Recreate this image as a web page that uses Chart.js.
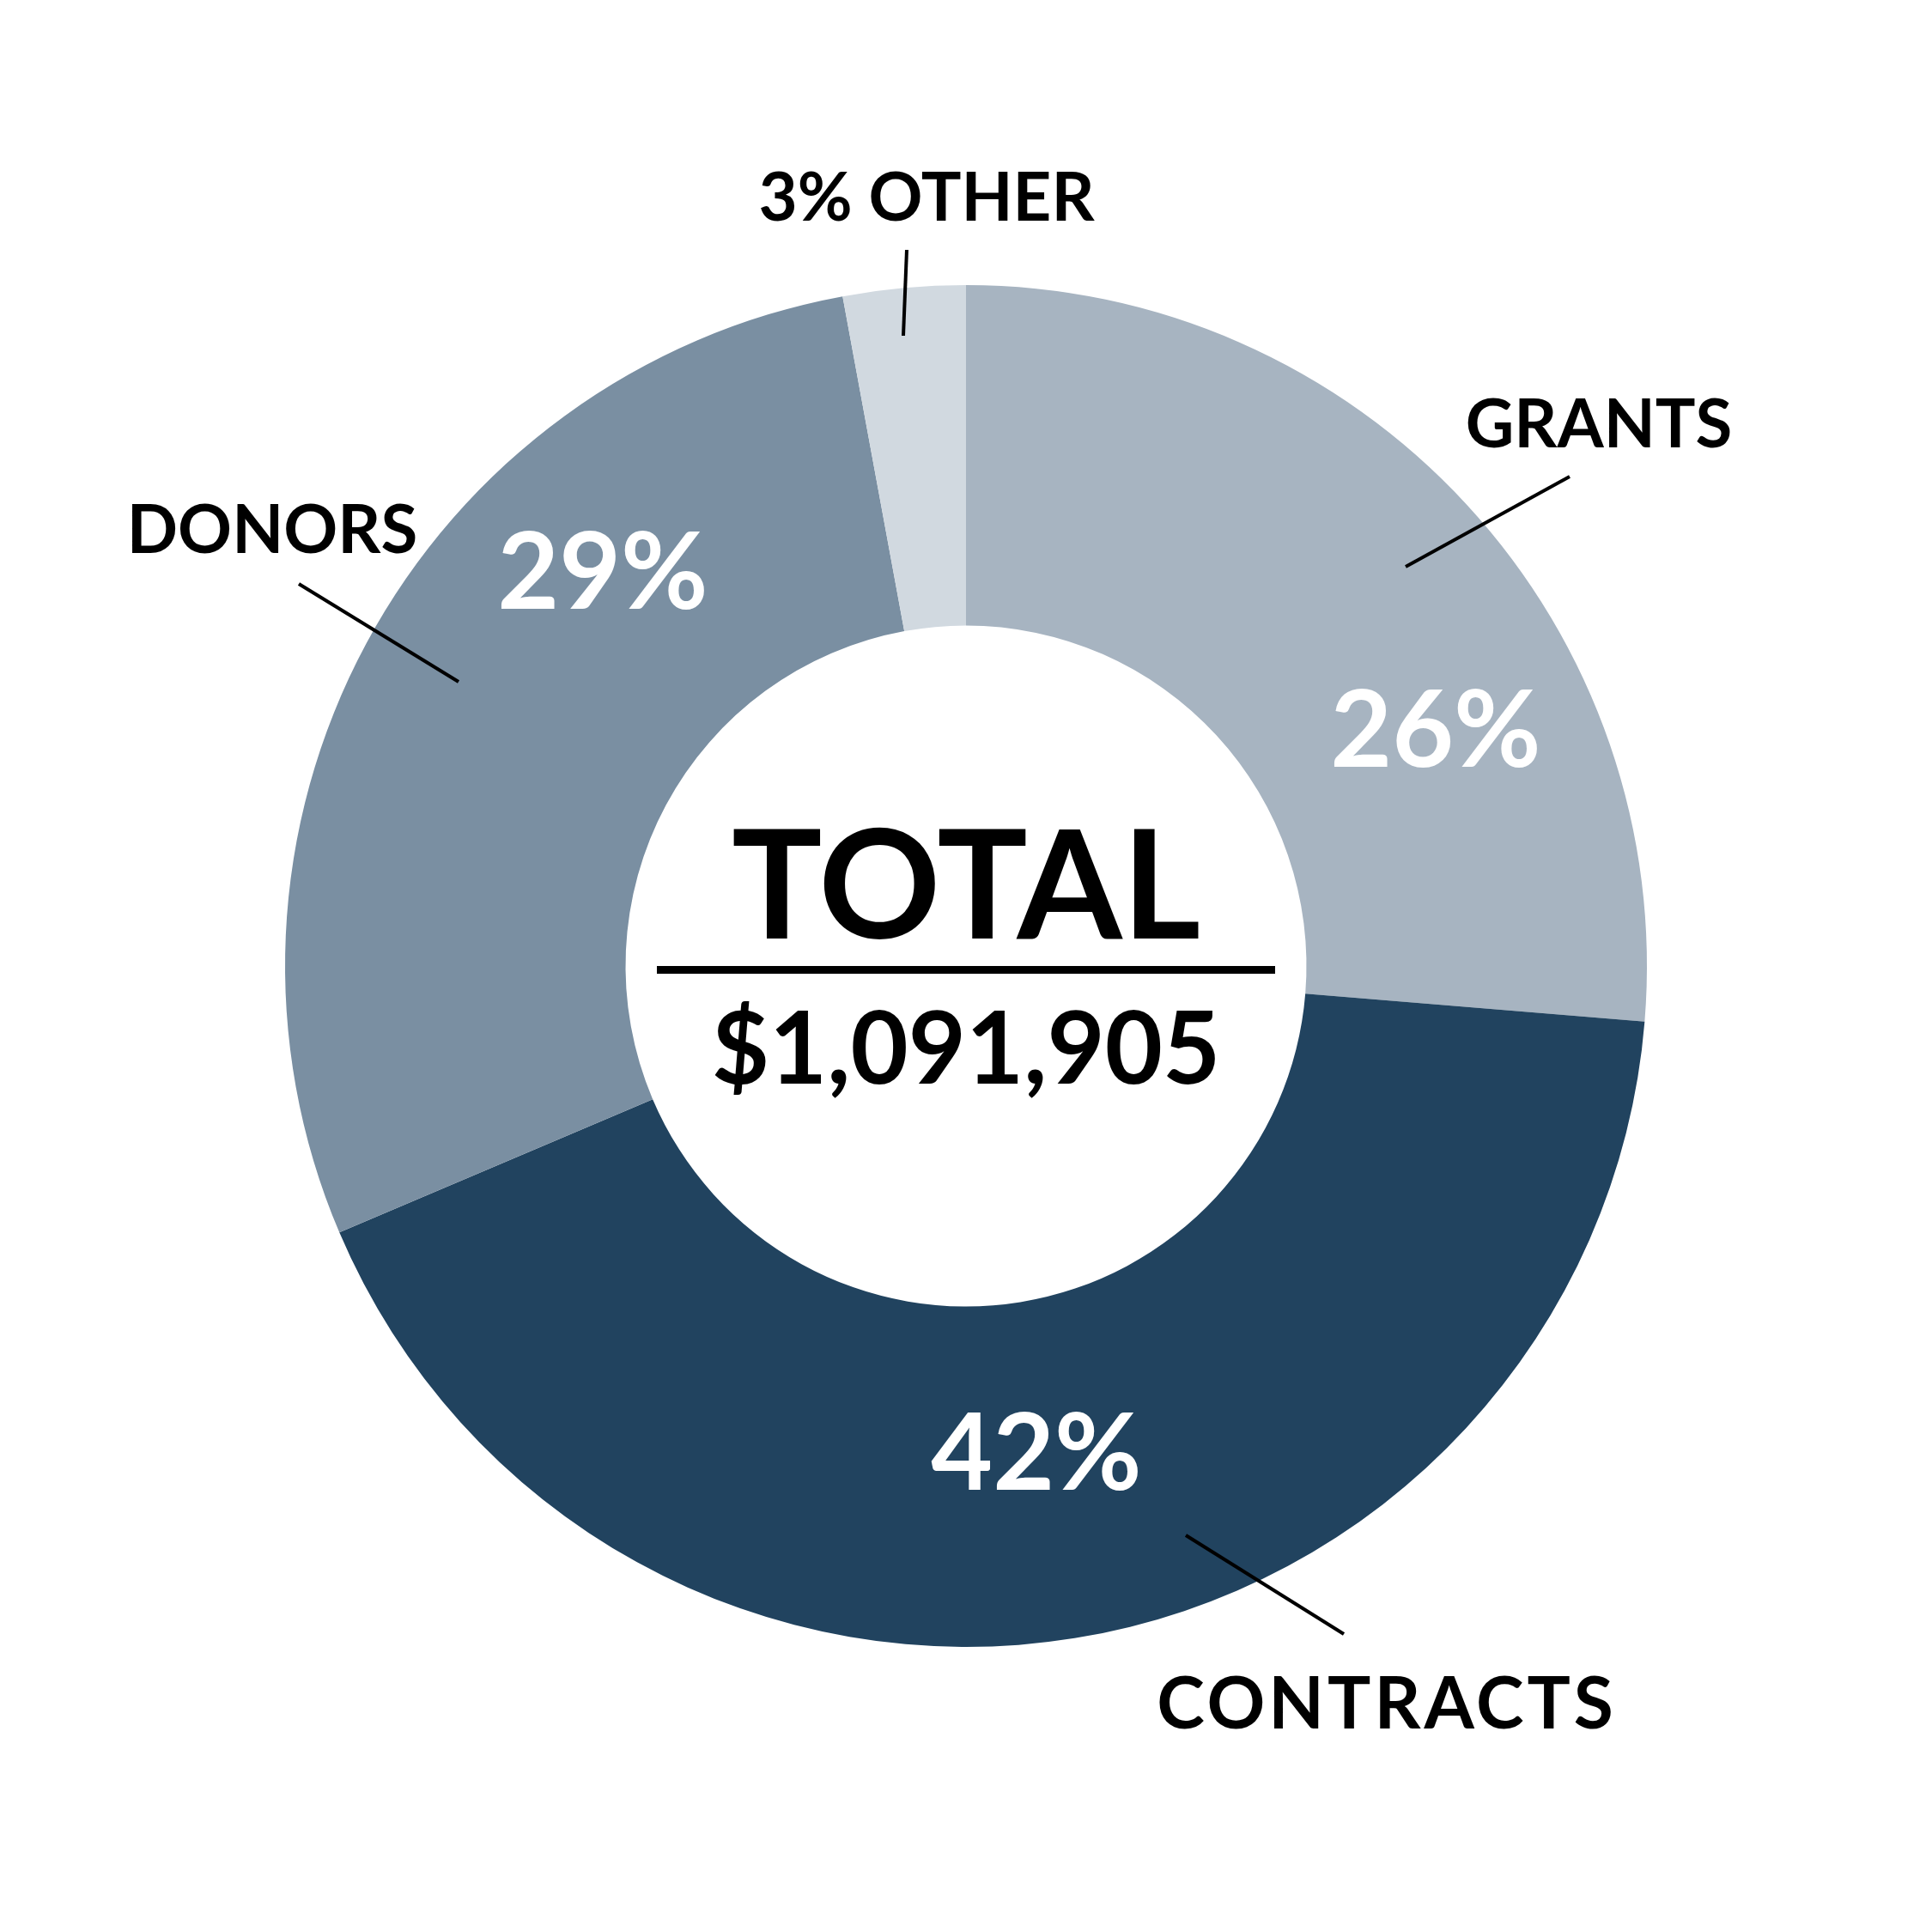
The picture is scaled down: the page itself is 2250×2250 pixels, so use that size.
<!DOCTYPE html>
<html>
<head>
<meta charset="utf-8">
<script src="https://cdn.jsdelivr.net/npm/chart.js@4.4.0/dist/chart.umd.min.js"></script>
<style>
  html, body { margin: 0; padding: 0; background: #ffffff; }
  #wrap { width: 2250px; height: 2250px; }
</style>
</head>
<body>
<div id="wrap"><canvas id="fundingChart" width="2250" height="2250"></canvas></div>
<script>
// funding sources, share of total
const categories = ['GRANTS', 'CONTRACTS', 'DONORS', 'OTHER'];
const shares = [26.3, 42.3, 28.5, 2.9];
const shareLabels = ['26%', '42%', '29%', '3%'];
const sliceColors = ['#a7b4c1', '#21435f', '#7a8fa2', '#d1d9e0'];
const totalLabel = 'TOTAL';
const totalAmount = '$1,091,905';

const FONT = 'Lato, "DejaVu Sans", sans-serif';

// where the text sits, relative to the ring centre
const pctPlacement = [
    { dx: 547, dy: -232 },
    { dx: 82, dy: 610 },
    { dx: -423, dy: -416 },
    null // "3%" goes in the outer label
];
const outerLabels = [
    { text: 'GRANTS', dx: 737, dy: -604, size: 78, spacing: 0, line: [703, -570, 512, -465] },
    { text: 'CONTRACTS', dx: 488, dy: 888, size: 84, spacing: 4, line: [256, 663, 440, 778] },
    { text: 'DONORS', dx: -808, dy: -481, size: 78, spacing: 0, line: [-777, -445, -591, -331] },
    { text: '3% OTHER', dx: -46, dy: -868, size: 78, spacing: 0, line: [-69, -834, -73, -734] }
];

const labelPlugin = {
    id: 'labelPlugin',
    afterDraw(chart) {
        const ctx = chart.ctx;
        const arc = chart.getDatasetMeta(0).data[0];
        const cx = arc.x, cy = arc.y;

        ctx.save();
        ctx.textAlign = 'center';
        ctx.textBaseline = 'alphabetic';

        // percentages inside the slices
        ctx.fillStyle = '#ffffff';
        ctx.font = 'bold 124px ' + FONT;
        shareLabels.forEach((txt, i) => {
            const p = pctPlacement[i];
            if (!p) return;
            ctx.fillText(txt, cx + p.dx, cy + p.dy);
        });

        // category names with leader lines
        ctx.fillStyle = '#000000';
        ctx.strokeStyle = '#000000';
        ctx.lineWidth = 4;
        outerLabels.forEach(l => {
            ctx.font = 'bold ' + l.size + 'px ' + FONT;
            ctx.letterSpacing = l.spacing + 'px';
            ctx.fillText(l.text, cx + l.dx + l.spacing / 2, cy + l.dy);
            ctx.letterSpacing = '0px';
            ctx.beginPath();
            ctx.moveTo(cx + l.line[0], cy + l.line[1]);
            ctx.lineTo(cx + l.line[2], cy + l.line[3]);
            ctx.stroke();
        });

        // centre total
        ctx.font = 'bold 176px ' + FONT;
        ctx.fillText(totalLabel, cx, cy - 32);
        ctx.fillRect(cx - 360, cy, 720, 9);
        ctx.font = 'bold 116px ' + FONT;
        ctx.fillText(totalAmount, cx, cy + 137);
        ctx.restore();
    }
};

new Chart(document.getElementById('fundingChart'), {
    type: 'doughnut',
    data: {
        labels: categories,
        datasets: [{
            data: shares,
            backgroundColor: sliceColors,
            borderWidth: 0
        }]
    },
    options: {
        responsive: false,
        animation: false,
        devicePixelRatio: 1,
        cutout: '50%',
        layout: { padding: 332 },
        plugins: {
            legend: { display: false },
            tooltip: { enabled: false }
        }
    },
    plugins: [labelPlugin]
});
</script>
</body>
</html>
